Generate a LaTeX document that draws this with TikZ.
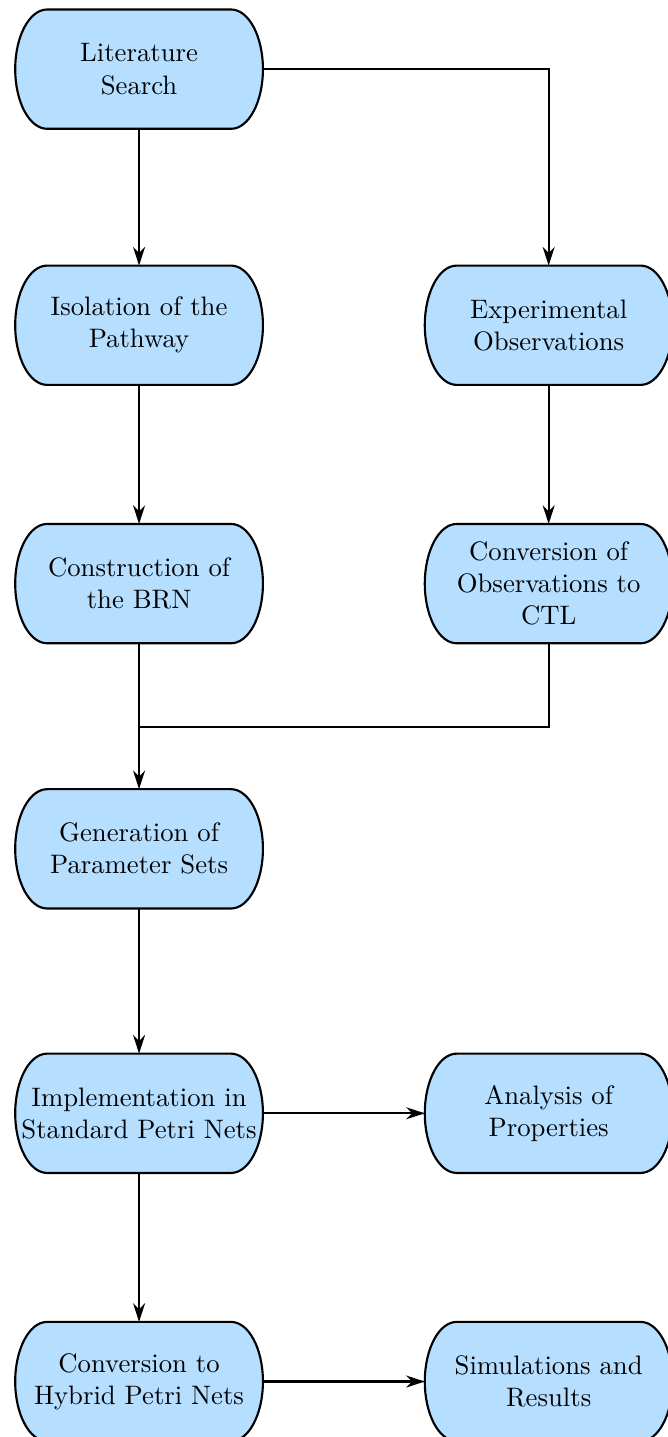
\documentclass[tikz,border=0pt]{standalone}
\usepackage{tikz}
\usetikzlibrary{positioning,calc,backgrounds,arrows.meta}
\definecolor{laatikko}{RGB}{181,222,255}

\begin{document}
\begin{tikzpicture} [node distance=1.85cm and 2.13cm, thick, >={Stealth[length=7pt,width=4.5pt]},
                    vaihe/.style={rectangle, align=center, text width=3.26cm, minimum height=1.57cm,
                    inner sep=0pt, outer sep=0pt}]

\useasboundingbox (-1.83,0.91) rectangle (6.96,-18.0);

\node[vaihe] (1) {Literature\\Search};
\node[vaihe] (2) [below=1.8cm of 1] {Isolation of the\\Pathway};
\node[vaihe] (3) [right=of 2] {Experimental\\Observations};
\node[vaihe] (4) [below=1.83cm of 2] {Construction of\\the BRN};
\node[vaihe] (5) at (3 |- 4) {Conversion of\\Observations to\\CTL};
\node[vaihe] (6) [below=1.92cm of 4] {Generation of\\Parameter Sets};
\node[vaihe] (7) [below=1.91cm of 6] {Implementation in\\Standard Petri Nets};
\node[vaihe] (8) at (3 |- 7) {Analysis of\\Properties};
\node[vaihe] (9) [below=1.96cm of 7] {Conversion to\\Hybrid Petri Nets};
\node[vaihe] (10) at (3 |- 9) {Simulations and\\Results};

% laatikot taakse
\begin{scope}[on background layer]
  \foreach \n in {1,...,10}
    \draw[thick, fill=laatikko] ($(\n.north west)+(0.42,0)$) -- ($(\n.north east)-(0.42,0)$)
      arc[start angle=90, end angle=-90, x radius=0.42cm, y radius=0.785cm]
      -- ($(\n.south west)+(0.42,0)$)
      arc[start angle=270, end angle=90, x radius=0.42cm, y radius=0.785cm] -- cycle;
\end{scope}

\coordinate[below=1.1cm of 4] (liitos);

\path[->]
    (1) edge (2)
    (2) edge (4)
    (3) edge (5)
    (4) edge (6)
    (6) edge (7)
    (7) edge (8)
    (7) edge (9)
    (9) edge (10);
\draw[->] (1.east) -| (3.north);
\draw (5.south) |- (liitos);
\end{tikzpicture}
\end{document}
